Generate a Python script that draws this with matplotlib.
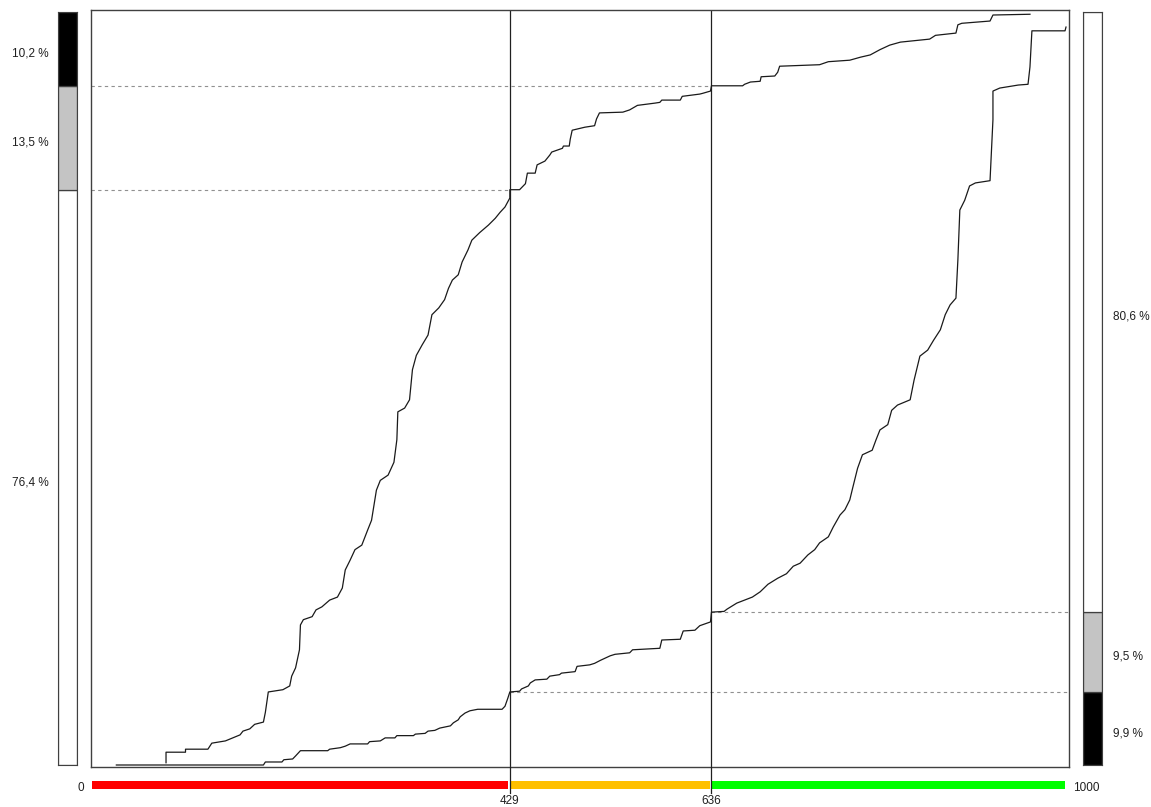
import matplotlib.pyplot as plt

# ---- data ----
# x: rank 0..1000, y: cumulative share 0..1
upper_x = [76, 76, 96, 96, 119, 123, 137, 152, 155, 162, 167, 176, 178, 181, 196, 203,
           205, 209, 213, 214, 217, 226, 230, 236, 244, 252, 257, 260, 265, 270, 277, 283,
           287, 292, 296, 304, 310, 313, 314, 321, 326, 329, 333, 339, 345, 349, 356, 362,
           366, 370, 376, 380, 386, 390, 398, 407, 414, 419, 424, 429, 429, 439, 445, 447,
           455, 457, 465, 470, 472, 483, 484, 490, 491, 493, 506, 516, 518, 521, 545, 552,
           560, 578, 583, 585, 604, 606, 624, 627, 635, 636, 668, 670, 676, 686, 687, 701,
           704, 706, 747, 756, 778, 789, 799, 809, 819, 830, 860, 866, 887, 889, 893, 922,
           925, 963]
upper_y = [0.003, 0.017, 0.017, 0.021, 0.021, 0.029, 0.032, 0.040, 0.045, 0.048, 0.054,
           0.057, 0.070, 0.097, 0.100, 0.105, 0.118, 0.129, 0.153, 0.186, 0.193, 0.197,
           0.206, 0.210, 0.219, 0.223, 0.235, 0.259, 0.272, 0.286, 0.292, 0.312, 0.325,
           0.365, 0.378, 0.385, 0.402, 0.432, 0.469, 0.474, 0.485, 0.525, 0.544, 0.558,
           0.571, 0.598, 0.607, 0.618, 0.633, 0.644, 0.651, 0.668, 0.684, 0.697, 0.707,
           0.717, 0.726, 0.734, 0.741, 0.753, 0.764, 0.764, 0.772, 0.786, 0.786, 0.797,
           0.802, 0.810, 0.814, 0.819, 0.822, 0.822, 0.831, 0.843, 0.847, 0.849, 0.858,
           0.866, 0.867, 0.870, 0.876, 0.879, 0.880, 0.883, 0.883, 0.888, 0.891, 0.892,
           0.895, 0.902, 0.902, 0.904, 0.907, 0.908, 0.914, 0.915, 0.920, 0.928, 0.930,
           0.934, 0.936, 0.940, 0.943, 0.950, 0.956, 0.960, 0.964, 0.969, 0.972, 0.983,
           0.985, 0.988, 0.996, 0.997]

lower_x = [25, 176, 178, 195, 197, 206, 209, 214, 242, 244, 255, 260, 265, 283, 285, 296,
           301, 311, 313, 330, 332, 342, 345, 352, 357, 368, 371, 376, 378, 383, 388, 396,
           421, 424, 427, 429, 439, 441, 448, 450, 455, 467, 470, 480, 482, 496, 498, 511,
           516, 522, 532, 537, 552, 555, 583, 585, 604, 607, 619, 624, 635, 636, 649, 652,
           662, 670, 678, 686, 694, 704, 713, 720, 727, 735, 742, 747, 756, 761, 768, 773,
           778, 781, 786, 791, 801, 805, 809, 817, 821, 827, 840, 844, 850, 858, 864, 871,
           876, 881, 887, 889, 891, 896, 901, 907, 922, 925, 925, 932, 951, 961, 963, 965,
           999, 1000]
lower_y = [0.0, 0.0, 0.004, 0.004, 0.007, 0.008, 0.012, 0.019, 0.019, 0.021, 0.023, 0.025,
           0.028, 0.028, 0.031, 0.032, 0.036, 0.036, 0.039, 0.039, 0.041, 0.042, 0.045,
           0.046, 0.049, 0.052, 0.056, 0.060, 0.064, 0.069, 0.072, 0.074, 0.074, 0.078,
           0.089, 0.097, 0.098, 0.101, 0.105, 0.109, 0.113, 0.114, 0.118, 0.120, 0.122,
           0.124, 0.131, 0.133, 0.135, 0.139, 0.145, 0.147, 0.149, 0.153, 0.155, 0.166,
           0.167, 0.178, 0.179, 0.185, 0.190, 0.203, 0.204, 0.207, 0.215, 0.219, 0.223,
           0.230, 0.240, 0.248, 0.254, 0.264, 0.268, 0.279, 0.286, 0.295, 0.303, 0.316,
           0.332, 0.339, 0.352, 0.368, 0.394, 0.412, 0.418, 0.432, 0.445, 0.452, 0.471,
           0.478, 0.485, 0.511, 0.543, 0.551, 0.564, 0.578, 0.598, 0.611, 0.620, 0.671,
           0.737, 0.750, 0.769, 0.773, 0.776, 0.857, 0.895, 0.899, 0.903, 0.904, 0.927,
           0.975, 0.975, 0.980]

cuts = [429, 636]
x_max = 1000
zone_colors = ['#ff0000', '#ffc000', '#00ff00']

# side bars: boundaries as drawn, labels as printed
left_levels = [0.764, 0.902]          # white | gray | black
left_labels = ['76,4 %', '13,5 %', '10,2 %']
right_levels = [0.097, 0.203]         # black | gray | white
right_labels = ['9,9 %', '9,5 %', '80,6 %']

W, H = 1151, 807
fig = plt.figure(figsize=(W / 100, H / 100), dpi=100)
plt.rcParams['font.family'] = ['Liberation Sans', 'DejaVu Sans']
fs = 8.5
frame = '#404040'
txt = '#202020'


def fig_rect(x0, y0, x1, y1):
    # pixel box -> figure fraction
    return [x0 / W, 1 - y1 / H, (x1 - x0) / W, (y1 - y0) / H]


# ---- main plot ----
ax = fig.add_axes(fig_rect(91, 10, 1069, 767))
px_per_x = 974 / x_max
ax.set_xlim(-1 / px_per_x, x_max + 3 / px_per_x)
ax.set_ylim(-2 / 753, 1 + 2 / 753)
ax.set_xticks([])
ax.set_yticks([])
for s in ax.spines.values():
    s.set_color(frame)
    s.set_linewidth(1)

dash = dict(color='#909090', lw=0.8, linestyle=(0, (3, 3)))
ax.plot([ax.get_xlim()[0], cuts[0]], [left_levels[0]] * 2, **dash)
ax.plot([ax.get_xlim()[0], cuts[1]], [left_levels[1]] * 2, **dash)
ax.plot([cuts[0], ax.get_xlim()[1]], [right_levels[0]] * 2, **dash)
ax.plot([cuts[1], ax.get_xlim()[1]], [right_levels[1]] * 2, **dash)

for c in cuts:
    ax.axvline(c, color=txt, lw=0.9)

ax.plot(upper_x, upper_y, color='#1a1a1a', lw=0.9)
ax.plot(lower_x, lower_y, color='#1a1a1a', lw=0.9)

# ---- bottom zone strip ----
sx = fig.add_axes(fig_rect(91, 767, 1069, 795))
sx.set_xlim(ax.get_xlim())
sx.set_ylim(0, 28)
sx.axis('off')
edges = [0] + cuts + [x_max]
for i in range(3):
    sx.barh(10, edges[i + 1] - edges[i] - 2, left=edges[i] + (1 if i else 0), height=8,
            color=zone_colors[i], lw=0)
for c in cuts:
    sx.plot([c, c], [2, 28], color=txt, lw=0.9)
    sx.text(c, 0, str(c), ha='center', va='top', fontsize=fs, color=txt)
sx.text(edges[0] - 8 / px_per_x, 7, '0', ha='right', va='center', fontsize=fs, color=txt)
sx.text(x_max + 7 / px_per_x, 7, str(x_max), ha='left', va='center', fontsize=fs, color=txt)


# ---- side bars ----
def side_bar(rect, levels, colors, labels, side):
    bx = fig.add_axes(fig_rect(*rect))
    bx.set_xlim(0, 1)
    bx.set_ylim(0, 1)
    bx.set_xticks([])
    bx.set_yticks([])
    for s in bx.spines.values():
        s.set_color(frame)
    bounds = [0] + levels + [1]
    for i in range(3):
        lo, hi = bounds[i], bounds[i + 1]
        bx.bar(0.5, hi - lo, bottom=lo, width=1, color=colors[i], edgecolor=frame, lw=0.9)
        if side == 'left':
            bx.annotate(labels[i], (0, (lo + hi) / 2), xytext=(-7, -3.5),
                        textcoords='offset points', ha='right', va='center',
                        fontsize=fs, color=txt)
        else:
            bx.annotate(labels[i], (1, (lo + hi) / 2), xytext=(8, -3.5),
                        textcoords='offset points', ha='left', va='center',
                        fontsize=fs, color=txt)


side_bar((58, 12, 77, 765), left_levels, ['white', '#c4c4c4', 'black'], left_labels, 'left')
side_bar((1083, 12, 1102, 765), right_levels, ['black', '#c4c4c4', 'white'], right_labels,
         'right')

fig.savefig('out.png', dpi=100)
